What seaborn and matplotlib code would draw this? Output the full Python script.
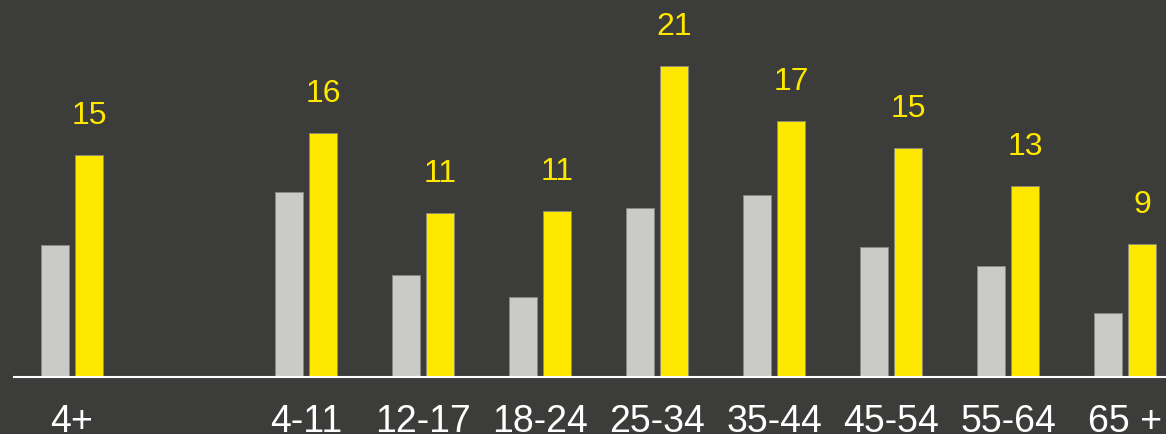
import pandas as pd
import seaborn as sns
from matplotlib import pyplot as plt

# age groups, with an empty slot between the total and the breakdown
categories = ['4+', ' ', '4-11', '12-17', '18-24', '25-34', '35-44', '45-54', '55-64', '65 +']
groups = ['4+', '4-11', '12-17', '18-24', '25-34', '35-44', '45-54', '55-64', '65 +']
gray_values = [8.9, 12.5, 6.9, 5.4, 11.4, 12.3, 8.8, 7.5, 4.3]
yellow_values = [15, 16.5, 11.1, 11.2, 21, 17.3, 15.5, 12.9, 9.0]
yellow_labels = ['15', '16', '11', '11', '21', '17', '15', '13', '9']
series = ['reference', 'highlight']

df = pd.DataFrame({
    'group': groups * 2,
    'value': gray_values + yellow_values,
    'series': [series[0]] * len(groups) + [series[1]] * len(groups),
})

bg = '#3c3c3a'
sns.set_style('dark')
plt.rcParams['font.family'] = ['Liberation Sans', 'DejaVu Sans']

fig = plt.figure(figsize=(11.66, 4.35), dpi=100, facecolor=bg)
ax = fig.add_axes([14 / 1166, 57 / 435, 1 - 14 / 1166, 378 / 435])
ax.set_facecolor(bg)

sns.barplot(data=df, x='group', y='value', hue='series', order=categories,
            hue_order=series, palette=['#cacac8', '#ffe800'], saturation=1,
            width=0.58, gap=0.17, edgecolor='#8a8a80', linewidth=0.6,
            ax=ax, legend=False)

ax.bar_label(ax.containers[1], labels=yellow_labels, padding=18,
             color='#ffe800', fontsize=23)

ax.set_xlim(-0.496, 9.35)
ax.set_ylim(0, 25.55)
ax.set_xlabel('')
ax.set_ylabel('')
ax.set_yticks([])
ax.tick_params(axis='x', length=0, pad=19, labelsize=27, labelcolor='white')
for side in ['top', 'right', 'left']:
    ax.spines[side].set_visible(False)
ax.spines['bottom'].set_color('white')
ax.spines['bottom'].set_linewidth(1.5)
ax.grid(False)

fig.savefig('out.png', dpi=100, facecolor=bg)
